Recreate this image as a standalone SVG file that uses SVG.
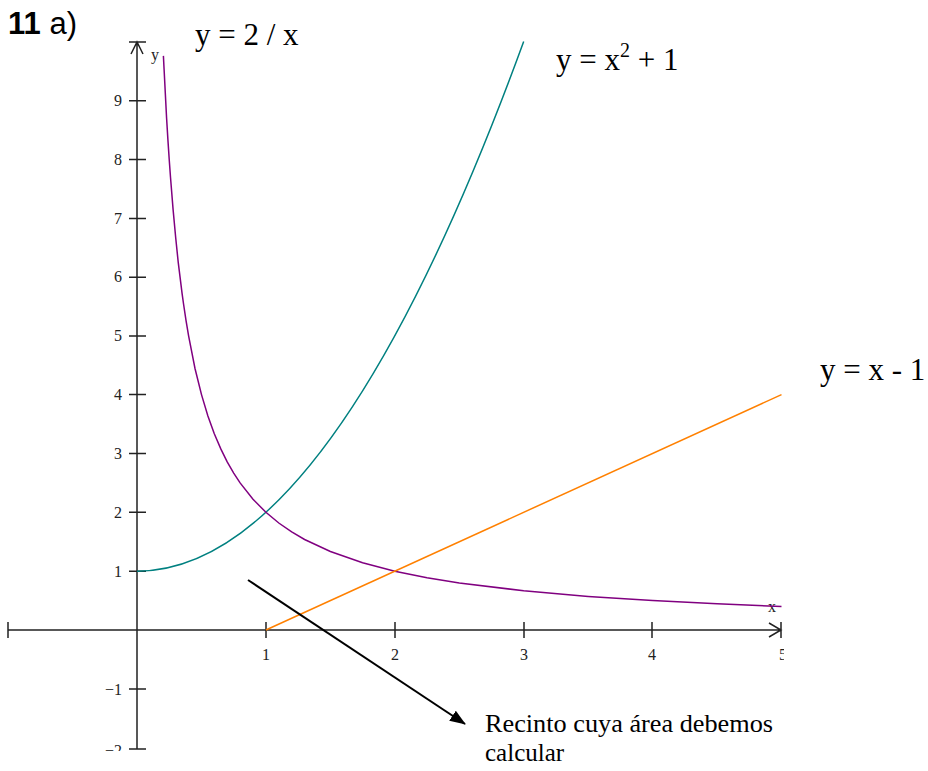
<svg xmlns="http://www.w3.org/2000/svg" width="928" height="771" viewBox="0 0 928 771">
<style>
.ax{stroke:#222;stroke-width:1.5;fill:none}
.tk{font-family:"Liberation Serif",serif;font-size:16px;fill:#222}
.eq{font-family:"Liberation Serif",serif;font-size:31px;fill:#000}
.cv{fill:none;stroke-width:1.5}
</style>
<defs>
<clipPath id="plot"><rect x="0" y="0" width="784" height="751"/></clipPath>
<marker id="ah" markerWidth="16" markerHeight="12" refX="15" refY="6" orient="auto" markerUnits="userSpaceOnUse" viewBox="0 0 16 12">
<path d="M0,0 L16,6 L0,12 Z" fill="#000"/>
</marker>
</defs>
<rect width="928" height="771" fill="#fff"/>
<text x="8" y="34" font-family="Liberation Sans,Arial,sans-serif" font-size="31"><tspan font-weight="bold">11</tspan> a)</text>
<g id="axes">
<path class="ax" d="M137,42 V749 M129,42 H146 M131,54 L137,42 L143,54"/>
<path class="ax" d="M8,630 H781 M8,622 V638 M781,622 V638 M769,623 L781,630 L769,637"/>
<path class="ax" d="M129,100.7 H146 M129,159.6 H146 M129,218.4 H146 M129,277.2 H146 M129,336 H146 M129,394.6 H146 M129,453.4 H146 M129,512.3 H146 M129,571.2 H146 M129,689 H146 M129,749 H146"/>
<path class="ax" d="M266,622 V638 M395,622 V638 M524,622 V638 M652,622 V638"/>
<g class="tk" text-anchor="end">
<text x="122" y="106">9</text>
<text x="122" y="165">8</text>
<text x="122" y="224">7</text>
<text x="122" y="282">6</text>
<text x="122" y="341">5</text>
<text x="122" y="400">4</text>
<text x="122" y="459">3</text>
<text x="122" y="518">2</text>
<text x="122" y="577">1</text>
<text x="122" y="695">−1</text>
<text x="122" y="756" clip-path="url(#plot)">−2</text>
</g>
<g class="tk" text-anchor="middle">
<text x="266" y="660">1</text>
<text x="395" y="660">2</text>
<text x="524" y="660">3</text>
<text x="652" y="660">4</text>
<text x="783" y="660" clip-path="url(#plot)">5</text>
</g>
<text class="tk" x="151" y="60" font-size="12">y</text>
<text class="tk" x="768" y="612" font-size="12">x</text>
</g>
<g id="curves">
<path class="cv" stroke="#008080" d="M137,571.15 Q330.35,571.15 523.7,41.5"/>
<polyline class="cv" stroke="#800080" points="163.4,55.9 164.1,69.5 165.4,95 166.6,118.3 167.9,139.6 169.2,159.2 170.5,177.3 173.1,209.6 175.7,237.7 178.2,262.2 182.1,293.7 183.4,303 186,320.3 188.6,335.8 195,368.5 201.5,394.6 207.9,416 214.3,433.8 220.8,448.9 227.2,461.9 233.7,473.1 240.1,482.9 253,499.2 265.9,512.3 278.8,523 291.7,531.9 304.6,539.5 330.4,551.5 362.6,562.7 394.8,571.2 427,577.7 459.3,582.9 523.7,590.8 588.2,596.4 652.6,600.6 717.1,603.8 781.5,606.5"/>
<line class="cv" stroke="#FF8000" x1="265.9" y1="630" x2="781.5" y2="394.6"/>
</g>
<g id="labels">
<text class="eq" x="195" y="45">y = 2 / x</text>
<text class="eq" x="556" y="70">y = x<tspan font-size="20" dy="-13">2</tspan><tspan dy="13"> + 1</tspan></text>
<text class="eq" x="820" y="380">y = x - 1</text>
</g>
<g id="connectors">
<line x1="248" y1="580" x2="465" y2="724" stroke="#000" stroke-width="2" marker-end="url(#ah)"/>
</g>
<g id="note" font-family="Liberation Serif,serif" font-size="25" fill="#000">
<text x="485" y="732" textLength="288" lengthAdjust="spacingAndGlyphs">Recinto cuya área debemos</text>
<text x="485" y="761">calcular</text>
</g>
</svg>
